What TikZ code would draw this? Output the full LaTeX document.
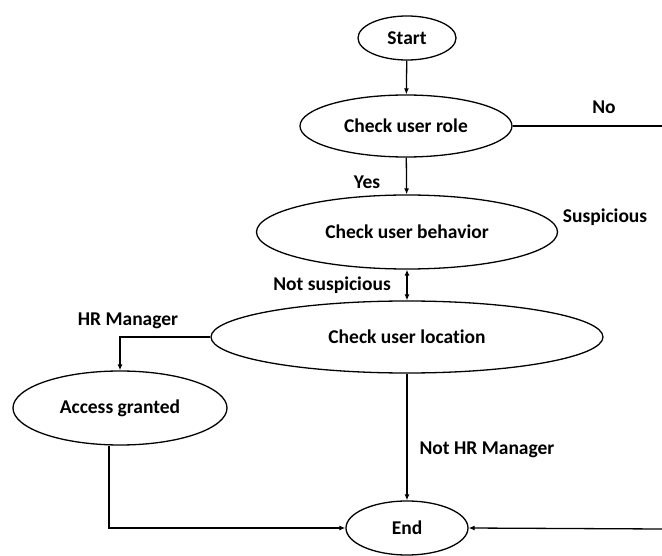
\documentclass[tikz,border=0pt]{standalone}
\usepackage{fontspec}
\setmainfont{Carlito}[Ligatures=NoCommon]
\usetikzlibrary{shapes.geometric,arrows.meta}
\begin{document}
\begin{tikzpicture}[x=1pt,y=-1pt,
  font=\fontsize{19.5}{22}\selectfont\bfseries,
  ell/.style={draw,ellipse,line width=1.3pt,inner sep=0pt},
  lbl/.style={inner sep=0pt,anchor=center},
  conn/.style={line width=1.3pt},
  arr/.style={conn,-{Latex[length=6pt,width=5pt]}},
  darr/.style={conn,{Latex[length=6pt,width=5pt]}-{Latex[length=6pt,width=5pt]}}]
\fill[white] (0,0) rectangle (662,556);
\useasboundingbox (0,0) rectangle (662,556);
\node[ell,minimum width=98pt,minimum height=44pt] (start) at (407,38) {Start};
\node[ell,minimum width=212pt,minimum height=62pt] (role) at (406,126) {Check user role};
\node[ell,minimum width=301pt,minimum height=74pt] (beh) at (407,232) {Check user behavior};
\node[ell,minimum width=392pt,minimum height=72pt] (loc) at (407,337) {Check user location};
\node[ell,minimum width=214pt,minimum height=74pt] (acc) at (120,408) {Access granted};
\node[ell,minimum width=122pt,minimum height=54pt] (end) at (407,528) {End};
\coordinate (noR) at (662,126);
\coordinate (inR) at (662,529);
\node[lbl] (no) at (604,107) {No};
\node[lbl] (yes) at (367,182) {Yes};
\node[lbl] (susp) at (605,217) {Suspicious};
\node[lbl] (nsusp) at (332,285) {Not suspicious};
\node[lbl] (hr) at (128,321) {HR Manager};
\node[lbl] (nhr) at (487,450) {Not HR Manager};
\draw[arr] (start) -- (role);
\draw[arr] (role) -- (beh);
\draw[darr] (beh) -- (loc);
\draw[conn] (role.east) -- (noR);
\draw[arr] (loc.west) -| (acc.north);
\draw[arr] (loc.south) -- (end.north);
\draw[arr] ([xshift=-11pt]acc.south) |- (end.west);
\draw[arr] (inR) -- (end.east);
\end{tikzpicture}
\end{document}
